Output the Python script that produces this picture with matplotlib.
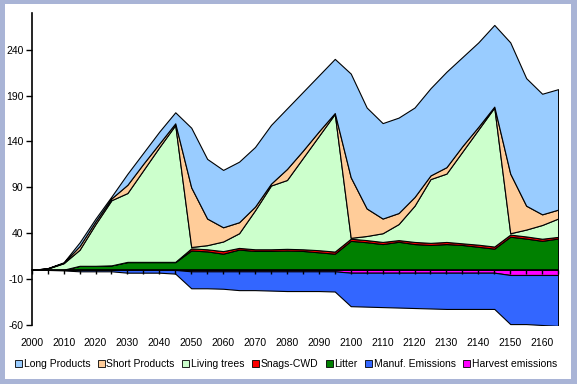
import matplotlib
matplotlib.use("Agg")
import matplotlib.pyplot as plt
from matplotlib.patches import Patch, Rectangle

plt.rcParams['font.family'] = ['Liberation Sans', 'DejaVu Sans']

years = list(range(2000, 2166, 5))

litter = [0, 0, 0.3, 4.5, 4.5, 5, 8.5, 8.5, 8.5, 8.5,
          21.2, 20.2, 17.7, 22.2, 20.7, 20.7, 21.2, 20.7, 19.2, 17.7,
          31.7, 30.2, 28.2, 30.7, 28.2, 27.2, 28.2, 27.2, 25.2, 23.2,
          36.2, 34.2, 31.7, 34.2]
snags = [0, 0, 0, 0, 0, 0, 0.3, 0.3, 0.3, 0.3,
         2.3, 2.3, 2.8, 1.8, 1.8, 1.8, 1.8, 1.8, 2.3, 2.3,
         2.3, 2.3, 2.3, 1.8, 2.3, 2.3, 2.3, 1.8, 2.3, 2.3,
         2.3, 2.3, 2.3, 1.8]
living = [0, 1.5, 7, 17.5, 45.5, 71, 75, 100, 125, 149,
          1.5, 4.5, 10.5, 16, 42.5, 69.5, 75, 99.5, 124.5, 150,
          1, 4.5, 9.5, 17.5, 39.5, 69.5, 74.5, 100, 125.5, 151.5,
          1.5, 7.5, 15, 20]
short = [0, 0.3, 0.5, 4, 3, 2, 9, 7, 4, 2,
         65, 29, 15.5, 12, 4, 2, 12, 8, 5, 1,
         66, 30, 16, 12, 9.5, 4, 7, 6, 3, 1,
         65, 26, 11.6, 9.7]
long_ = [0, 0.2, 0.5, 4, 3, 2, 12, 12, 13, 12,
         65, 65, 62.5, 66, 65, 64, 66, 64, 61, 59,
         113, 110, 104, 104, 97.5, 95, 104, 97, 92, 89,
         143, 139, 131.4, 131.3]
harvest = [0, 0, 0, 0, 0, 0, 0, 0, 0, 0,
           -1.5, -1.5, -1.5, -1.5, -1.5, -1.5, -1.5, -1.5, -1.5, -1.5,
           -3, -3, -3, -3, -3, -3, -3, -3, -3, -3,
           -5.5, -5.5, -5.5, -5.5]
manuf = [0, 0, -0.5, -1.5, -1.5, -1.5, -3, -3, -3, -4,
         -18.5, -18.5, -19, -20.5, -20.5, -21, -21.5, -21.5, -21.5, -22,
         -36.5, -37, -37.5, -38, -38.5, -39, -39.5, -39.5, -39.5, -39.5,
         -53.5, -53.5, -54.5, -55.5]

names = ["Long Products", "Short Products", "Living trees", "Snags-CWD",
         "Litter", "Manuf. Emissions", "Harvest emissions"]
colors = {"Long Products": "#99CCFF", "Short Products": "#FFCC99",
          "Living trees": "#CCFFCC", "Snags-CWD": "#FF0000",
          "Litter": "#008000", "Manuf. Emissions": "#3366FF",
          "Harvest emissions": "#FF00FF"}

yticks = [-60, -10, 40, 90, 140, 190, 240]
xlabels = list(range(2000, 2161, 10))

W, H = 577, 384
fig = plt.figure(figsize=(W / 100, H / 100), dpi=100)
fig.patch.set_facecolor("#A9B4D6")
fig.add_artist(Rectangle((5 / W, 5 / H), (W - 11) / W, (H - 9) / H,
                         transform=fig.transFigure, facecolor="white",
                         edgecolor="none", zorder=0))

ax = fig.add_axes([31.7 / W, 1 - 325 / H, (558.1 - 31.7) / W, (325 - 13) / H])
ax.set_facecolor("none")

ax.stackplot(years, litter, snags, living, short, long_,
             colors=[colors["Litter"], colors["Snags-CWD"], colors["Living trees"],
                     colors["Short Products"], colors["Long Products"]],
             edgecolor="black", linewidth=0.8)
ax.stackplot(years, harvest, manuf,
             colors=[colors["Harvest emissions"], colors["Manuf. Emissions"]],
             edgecolor="black", linewidth=0.8)

ax.set_xlim(2000, 2165)
ax.set_ylim(-60, 280)
ax.set_yticks(yticks)
ax.set_yticklabels([str(v) for v in yticks], fontsize=7.5)
ax.tick_params(axis="y", direction="out", length=4, width=1, pad=2)

for s in ["top", "right"]:
    ax.spines[s].set_visible(False)
ax.spines["left"].set_linewidth(1.2)
ax.spines["bottom"].set_position(("data", 0))
ax.spines["bottom"].set_linewidth(1.2)
ax.set_xticks(years)
ax.set_xticklabels([])
ax.tick_params(axis="x", direction="out", length=3, width=1)

sec = ax.secondary_xaxis(0)
sec.set_xticks(xlabels)
sec.set_xticklabels([str(v) for v in xlabels], fontsize=7.5)
sec.tick_params(length=0, pad=9)
sec.spines["bottom"].set_visible(False)

handles = [Patch(facecolor=colors[n], edgecolor="black", linewidth=0.6) for n in names]
fig.legend(handles, names, loc="center", bbox_to_anchor=(286 / W, 1 - 364 / H),
           ncol=7, frameon=False, fontsize=7.5, handlelength=0.7, handleheight=0.7,
           handletextpad=0.15, columnspacing=0.7, borderaxespad=0)

fig.savefig("out.png", dpi=100)
